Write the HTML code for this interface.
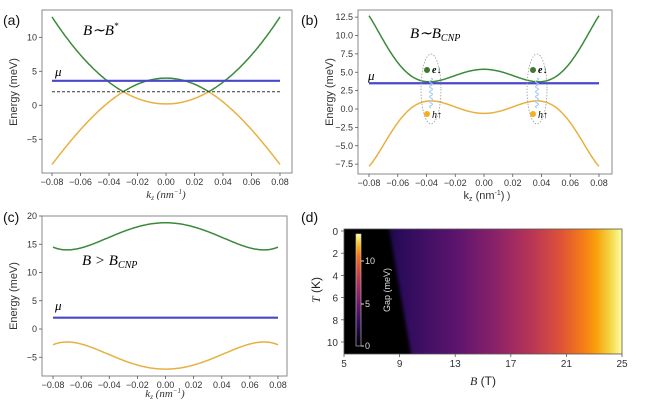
<!DOCTYPE html>
<html><head><meta charset="utf-8"><style>
body{margin:0;background:#fff}
svg{display:block}
text{font-family:"Liberation Sans",sans-serif}
.t{font-size:9px;fill:#333}
.lab{font-size:11px;fill:#333}
.pl{font-size:14px;fill:#111}
.it{font-family:"Liberation Serif",serif;font-style:italic}
</style></head><body>
<svg id="s" width="652" height="409" viewBox="0 0 652 409" xmlns="http://www.w3.org/2000/svg">
<defs>
<linearGradient id="inf" x1="0" x2="1" y1="0" y2="0">
<stop offset="0" stop-color="#000004"/>
<stop offset="0.15" stop-color="#1a0b40"/>
<stop offset="0.2" stop-color="#2a0b5a"/>
<stop offset="0.4" stop-color="#5b146e"/>
<stop offset="0.55" stop-color="#8c2269"/>
<stop offset="0.68" stop-color="#ba3655"/>
<stop offset="0.78" stop-color="#de5237"/>
<stop offset="0.86" stop-color="#f57c18"/>
<stop offset="0.91" stop-color="#f9a20c"/>
<stop offset="0.96" stop-color="#f5d84a"/>
<stop offset="1" stop-color="#fcfea4"/>
</linearGradient>
<linearGradient id="cb" x1="0" x2="0" y1="1" y2="0">
<stop offset="0" stop-color="#000004"/>
<stop offset="0.2" stop-color="#320a5e"/>
<stop offset="0.4" stop-color="#781c6d"/>
<stop offset="0.6" stop-color="#bc3754"/>
<stop offset="0.8" stop-color="#f1711f"/>
<stop offset="0.9" stop-color="#fbb61a"/>
<stop offset="1" stop-color="#fcffa4"/>
</linearGradient>
<filter id="bl" x="-20%" y="-20%" width="140%" height="140%"><feGaussianBlur stdDeviation="1.5"/></filter>
<clipPath id="hc"><rect x="344" y="229" width="278" height="125"/></clipPath>
</defs>
<g id="g"></g>
<text class="pl" x="3" y="25">(a)</text>
<text class="pl" x="301" y="25">(b)</text>
<text class="pl" x="3" y="222">(c)</text>
<text class="pl" x="301" y="222">(d)</text>
<text x="83" y="35" class="it" font-size="15">B∼B<tspan font-size="9" dy="-6">*</tspan></text>
<text x="55" y="76" class="it" font-size="13">μ</text>
<text class="lab" transform="translate(17,92) rotate(-90)" text-anchor="middle">Energy (meV)</text>
<text x="166" y="198" class="it" font-size="11" text-anchor="middle" fill="#333">k<tspan font-size="7" dy="2">z</tspan><tspan dy="-2"> (nm</tspan><tspan font-size="7" dy="-4">−1</tspan><tspan dy="4">)</tspan></text>
<text x="410" y="38" class="it" font-size="15">B∼B<tspan font-size="10" dy="3">CNP</tspan></text>
<text x="368" y="80" class="it" font-size="13">μ</text>
<text class="lab" transform="translate(333,92) rotate(-90)" text-anchor="middle">Energy (meV)</text>
<text x="484" y="199" font-size="11" text-anchor="middle" fill="#333">k<tspan font-size="7" dy="2">z</tspan><tspan dy="-2"> (nm</tspan><tspan font-size="7" dy="-4">-1</tspan><tspan dy="4">)</tspan></text>
<text x="507" y="199" font-size="10" fill="#333">)</text>
<text x="82" y="265" class="it" font-size="15">B &gt; B<tspan font-size="10" dy="3">CNP</tspan></text>
<text x="55" y="310" class="it" font-size="13">μ</text>
<text class="lab" transform="translate(17,296) rotate(-90)" text-anchor="middle">Energy (meV)</text>
<text x="165" y="397" class="it" font-size="11" text-anchor="middle" fill="#333">k<tspan font-size="7" dy="2">z</tspan><tspan dy="-2"> (nm</tspan><tspan font-size="7" dy="-4">−1</tspan><tspan dy="4">)</tspan></text>
<rect x="344" y="229" width="278" height="125" fill="url(#inf)"/>
<g clip-path="url(#hc)"><polygon points="330,220 389,220 389,229 411,354 412,365 330,365" fill="#000" filter="url(#bl)"/></g>
<rect x="344" y="229" width="278" height="125" fill="none" stroke="#555" stroke-width="0.8"/>
<rect x="356" y="234" width="5" height="112" fill="url(#cb)" stroke="#ccc" stroke-width="0.6"/>
<g fill="#ddd" font-size="9">
<line x1="361" y1="261" x2="364" y2="261" stroke="#ddd"/><text x="365" y="264">10</text>
<line x1="361" y1="304" x2="364" y2="304" stroke="#ddd"/><text x="365" y="307">5</text>
<line x1="361" y1="346" x2="364" y2="346" stroke="#ddd"/><text x="365" y="349">0</text>
<text transform="translate(390,290) rotate(-90)" text-anchor="middle" font-size="9">Gap (meV)</text>
</g>
<text x="483" y="385" font-size="12" text-anchor="middle" fill="#222"><tspan class="it">B</tspan> (T)</text>
<text transform="translate(320,290) rotate(-90)" font-size="12" text-anchor="middle" fill="#222"><tspan class="it">T</tspan> (K)</text>
</svg>
<script>
var g=document.getElementById('g'),NS='http://www.w3.org/2000/svg';
function el(t,a,txt){var e=document.createElementNS(NS,t);for(var k in a)e.setAttribute(k,a[k]);if(txt!=null)e.textContent=txt;g.appendChild(e);return e;}
function solve(M,b){var n=b.length;for(var i=0;i<n;i++){var p=i;for(var r=i+1;r<n;r++)if(Math.abs(M[r][i])>Math.abs(M[p][i]))p=r;var t=M[i];M[i]=M[p];M[p]=t;t=b[i];b[i]=b[p];b[p]=t;for(r=i+1;r<n;r++){var f=M[r][i]/M[i][i];for(var c=i;c<n;c++)M[r][c]-=f*M[i][c];b[r]-=f*b[i];}}var x=[];for(i=n-1;i>=0;i--){var s=b[i];for(c=i+1;c<n;c++)s-=M[i][c]*x[c];x[i]=s/M[i][i];}return x;}
function fit(c,k0,e0,k2,e2){var u0=k0*k0,u2=k2*k2;var x=solve([[u0,u0*u0,u0*u0*u0],[1,2*u0,3*u0*u0],[u2,u2*u2,u2*u2*u2]],[e0-c,0,e2-c]);return function(k){var u=k*k;return c+x[0]*u+x[1]*u*u+x[2]*u*u*u;};}
function fit2(c,k1,e1,k2,e2){var u1=k1*k1,u2=k2*k2;var x=solve([[u1,u1*u1],[u2,u2*u2]],[e1-c,e2-c]);return function(k){var u=k*k;return c+x[0]*u+x[1]*u*u;};}
var lbl=['\u22120.08','\u22120.06','\u22120.04','\u22120.02','0.00','0.02','0.04','0.06','0.08'];
function panel(P){
 el('rect',{x:P.x0,y:P.y0,width:P.x1-P.x0,height:P.y1-P.y0,fill:'none',stroke:'#888','stroke-width':1});
 P.yt.forEach(function(v){var y=P.Y(v);el('line',{x1:P.x0-3,x2:P.x0,y1:y,y2:y,stroke:'#555','stroke-width':0.8});el('text',{x:P.x0-5,y:y+3,'text-anchor':'end','class':'t'},P.fmt(v));});
 for(var i=-4;i<=4;i++){var k=i*0.02,x=P.X(k);el('line',{x1:x,x2:x,y1:P.y1,y2:P.y1+3,stroke:'#555','stroke-width':0.8});el('text',{x:x,y:P.y1+12,'text-anchor':'middle','class':'t'},lbl[i+4]);}
 P.curves.forEach(function(cv){var d='';for(var j=0;j<=320;j++){var k=-0.08+j*0.0005;d+=(j?'L':'M')+P.X(k).toFixed(1)+','+P.Y(cv.f(k)).toFixed(1);}el('path',{d:d,fill:'none',stroke:cv.c,'stroke-width':1.5});});
 el('line',{x1:P.X(-0.08),x2:P.X(0.08),y1:P.Y(P.mu),y2:P.Y(P.mu),stroke:'#4848c8','stroke-width':2.2});
}
function fmtI(v){return v<0?'\u2212'+(-v):''+v;}
function fmtF(v){return (v<0?'\u2212':'')+Math.abs(v).toFixed(1);}
var Ua=fit2(0.2,0.03,2,0.08,13),Da=fit2(4,0.03,2,0.08,-8.7);
var A={x0:42,x1:292,y0:10,y1:173,X:function(k){return 166+1425*k},Y:function(e){return 105.3-6.8*e},yt:[10,5,0,-5],fmt:fmtI,mu:3.6,
 curves:[{f:function(k){return Math.max(Ua(k),Da(k))},c:'#3a8a3a'},{f:function(k){return Math.min(Ua(k),Da(k))},c:'#e8b040'}]};
var B={x0:358,x1:612,y0:10,y1:174,X:function(k){return 484+1437.5*k},Y:function(e){return 109-7.35*e},yt:[12.5,10,7.5,5,2.5,0,-2.5,-5,-7.5],fmt:fmtF,mu:3.5,
 curves:[{f:fit(5.4,0.038,3.7,0.08,12.7),c:'#3a8a3a'},{f:fit(-0.6,0.037,1.1,0.08,-7.8),c:'#e8b040'}]};
var C={x0:42,x1:287,y0:216,y1:376,X:function(k){return 165.5+1406*k},Y:function(e){return 329-5.65*e},yt:[20,15,10,5,0,-5],fmt:fmtI,mu:2,
 curves:[{f:fit(18.8,0.07,14,0.08,14.5),c:'#3a8a3a'},{f:fit(-7.1,0.07,-2.3,0.08,-2.8),c:'#e8b040'}]};
[A,B,C].forEach(panel);
el('line',{x1:A.X(-0.08),x2:A.X(0.08),y1:A.Y(2),y2:A.Y(2),stroke:'#333','stroke-width':1,'stroke-dasharray':'3,2'});
[-1,1].forEach(function(s){var cx=s<0?431:537;
 el('ellipse',{cx:cx,cy:89,rx:10,ry:35,fill:'none',stroke:'#999','stroke-width':0.8,'stroke-dasharray':'1.5,1.5'});
 var d='M'+cx+',78';for(var j=1;j<=12;j++){d+='Q'+(cx+(j%2?3:-3))+','+(78+j*2.5-1.25)+' '+cx+','+(78+j*2.5);}
 el('path',{d:d,fill:'none',stroke:'#a8c8f0','stroke-width':1});
 el('circle',{cx:cx-4,cy:70,r:3,fill:'#3a7a2a'});el('circle',{cx:cx-4,cy:114,r:3,fill:'#f0b020'});
 el('text',{x:cx+1,y:73,'font-size':'10','font-weight':'bold','class':'it'},'e\u2193');
 el('text',{x:cx+1,y:118,'font-size':'10','class':'it'},'h\u2191');
});
[0,2,4,6,8,10].forEach(function(v){var y=231+11.1*v;el('line',{x1:341,x2:344,y1:y,y2:y,stroke:'#555','stroke-width':0.8});el('text',{x:338,y:y+4,'text-anchor':'end','font-size':'10',fill:'#333'},''+v);});
[5,9,13,17,21,25].forEach(function(v){var x=344+(v-5)*13.9;el('line',{x1:x,x2:x,y1:354,y2:357,stroke:'#555','stroke-width':0.8});el('text',{x:x,y:367,'text-anchor':'middle','font-size':'10',fill:'#333'},''+v);});
</script>
</body></html>
